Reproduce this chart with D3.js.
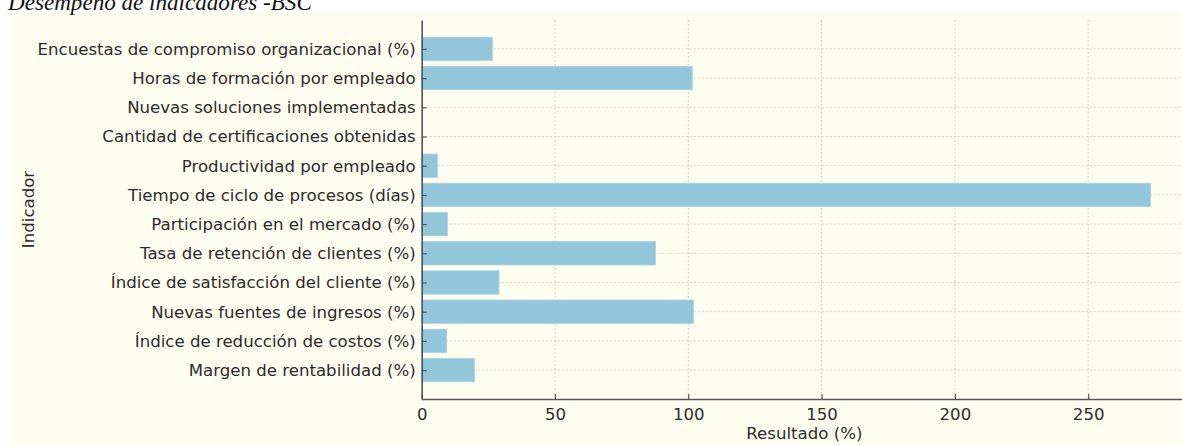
<!DOCTYPE html>
<html><head><meta charset="utf-8">
<script src="https://cdn.jsdelivr.net/npm/d3@7"></script>
<style>
html,body{margin:0;padding:0;background:#fff;}
svg{display:block;}
</style></head>
<body>
<script>
// Categories listed bottom-to-top (matplotlib barh order)
const categories = [
  "Margen de rentabilidad (%)",
  "Índice de reducción de costos (%)",
  "Nuevas fuentes de ingresos (%)",
  "Índice de satisfacción del cliente (%)",
  "Tasa de retención de clientes (%)",
  "Participación en el mercado (%)",
  "Tiempo de ciclo de procesos (días)",
  "Productividad por empleado",
  "Cantidad de certificaciones obtenidas",
  "Nuevas soluciones implementadas",
  "Horas de formación por empleado",
  "Encuestas de compromiso organizacional (%)"
];
const values = [19.8, 9.4, 102, 29, 87.7, 9.7, 273.4, 5.9, 0, 0, 101.5, 26.5];
const xTicks = [0, 50, 100, 150, 200, 250];
const title = "Desempeño de indicadores -BSC";
const xLabel = "Resultado (%)";
const yLabel = "Indicador";

const W = 1182, H = 445;
const FS = 16.6;
const sans = "'DejaVu Sans', sans-serif";
const txtColor = "#2b2b2b";
const svg = d3.select("body").append("svg").attr("width", W).attr("height", H);

// figure background (cream) below the title band
svg.append("rect").attr("x", 10).attr("y", 13).attr("width", W - 10).attr("height", H - 13).attr("fill", "#fefef0");

const plotL = 421.7, plotR = 1187, plotT = 20, plotB = 399;
const xMax = d3.max(values) * 1.05;
const x = d3.scaleLinear().domain([0, xMax]).range([plotL, plotR]);
const n = categories.length;
const pad = 0.4 + 0.05 * (n - 1 + 0.8);
const y = d3.scaleLinear().domain([-pad, n - 1 + pad]).range([plotB, plotT]);
const barH = Math.abs(y(0.8) - y(0));

const g = svg.append("g");
// grids
const gridColor = "#d6cdc6";
g.selectAll(".vg").data(xTicks.filter(t => t > 0)).enter().append("line")
  .attr("x1", d => x(d)).attr("x2", d => x(d)).attr("y1", plotT).attr("y2", plotB)
  .attr("stroke", gridColor).attr("stroke-width", 1).attr("stroke-dasharray", "2,2");
g.selectAll(".hg").data(categories).enter().append("line")
  .attr("x1", plotL).attr("x2", plotR).attr("y1", (d, i) => y(i)).attr("y2", (d, i) => y(i))
  .attr("stroke", gridColor).attr("stroke-width", 1).attr("stroke-dasharray", "2,2");

// bars
g.selectAll(".bar").data(values).enter().append("rect")
  .attr("x", x(0)).attr("width", d => x(d) - x(0))
  .attr("y", (d, i) => y(i) - barH / 2).attr("height", barH)
  .attr("fill", "#92c6db").attr("stroke", "#a8d3e3").attr("stroke-width", 0.8);

// axes
const xAxis = d3.axisBottom(x).tickValues(xTicks).tickSizeInner(-5).tickSizeOuter(0).tickPadding(9);
const gx = svg.append("g").attr("transform", `translate(0,${plotB})`).call(xAxis);
gx.select(".domain").attr("stroke", "#555").attr("stroke-width", 1.6);
gx.selectAll(".tick line").attr("stroke", "#555").attr("stroke-width", 1.2);
gx.selectAll(".tick text").style("font-size", FS + "px").style("fill", txtColor).style("font-family", sans);

const yAxis = d3.axisLeft(y).tickValues(d3.range(n)).tickFormat(i => categories[i]).tickSizeInner(-5).tickSizeOuter(0).tickPadding(6);
const gy = svg.append("g").attr("transform", `translate(${plotL},0)`).call(yAxis);
gy.select(".domain").attr("stroke", "#555").attr("stroke-width", 1.6);
gy.selectAll(".tick line").attr("stroke", "#555").attr("stroke-width", 1.2);
gy.selectAll(".tick text").style("font-size", FS + "px").style("fill", txtColor).style("font-family", sans);

// axis labels
svg.append("text").attr("x", (plotL + plotR) / 2).attr("y", 439).attr("text-anchor", "middle")
  .style("font-size", FS + "px").style("fill", txtColor).style("font-family", sans).text(xLabel);
svg.append("text").attr("transform", `translate(34,${(plotT + plotB) / 2}) rotate(-90)`)
  .attr("text-anchor", "middle").style("font-size", FS + "px").style("fill", txtColor).style("font-family", sans).text(yLabel);

// title (partially cut at the top, as in the source)
const t = svg.append("text").attr("x", 8).attr("y", 10)
  .style("font-family", "'Liberation Serif','Times New Roman',serif").style("font-style", "italic")
  .style("font-size", "22px").style("fill", "#111").text(title);
const tw = t.node().getComputedTextLength();
t.style("font-size", (22 * 304 / tw) + "px");
</script>
</body></html>
